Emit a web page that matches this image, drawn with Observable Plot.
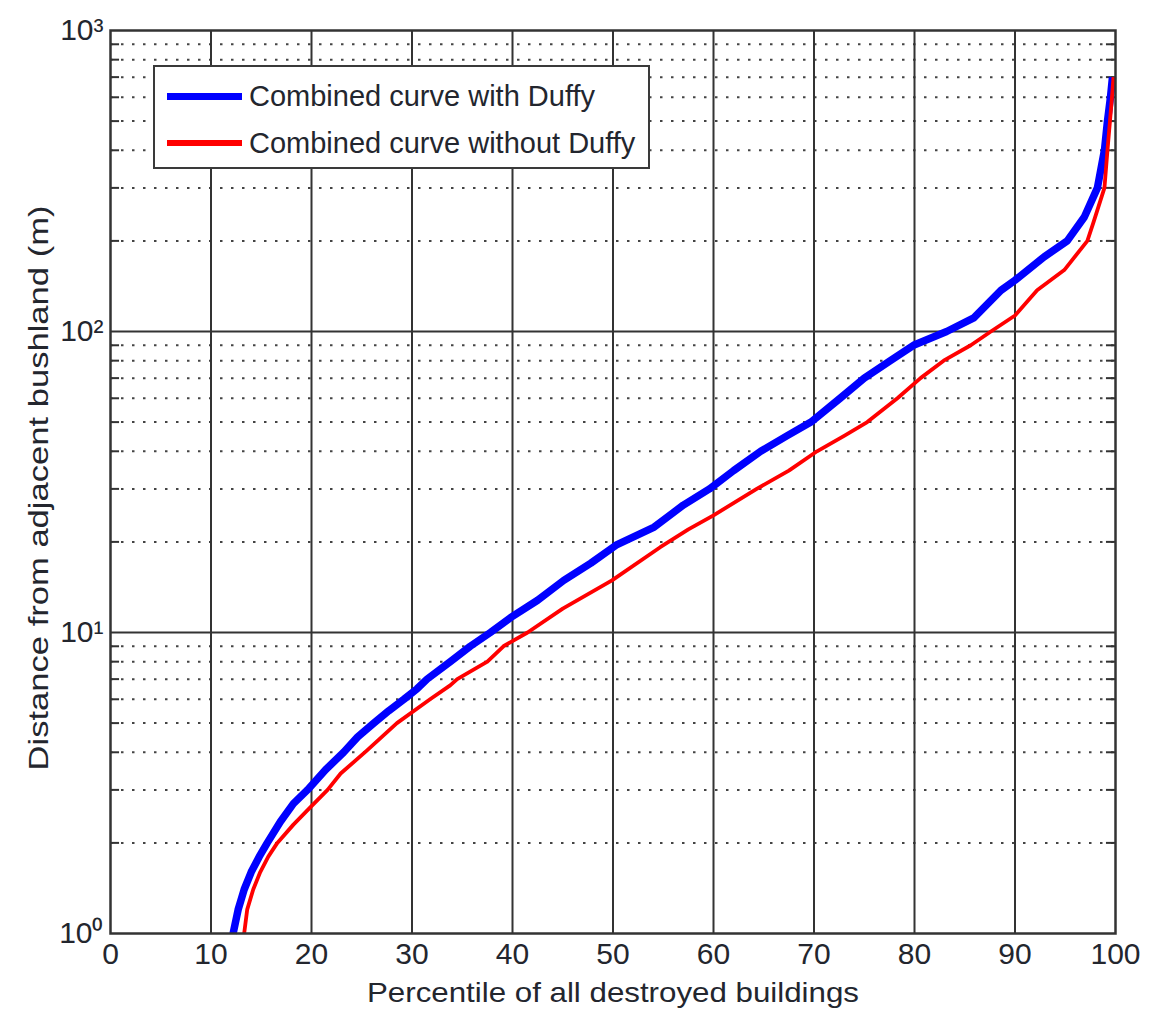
<!DOCTYPE html>
<html>
<head>
<meta charset="utf-8">
<script src="https://cdn.jsdelivr.net/npm/d3@7"></script>
<script src="https://cdn.jsdelivr.net/npm/@observablehq/plot@0.6"></script>
<style>
  html, body { margin: 0; padding: 0; background: #fff; }
  #wrap { position: relative; width: 1153px; height: 1009px; font-family: "Liberation Sans", Arial, sans-serif; }
  #legend { position: absolute; left: 153px; top: 65px; width: 493px; height: 100px; border: 2px solid #3a3a3a; background: #fff; box-sizing: content-box; }
  .sw { position: absolute; left: 12px; width: 75px; }
  .lt { position: absolute; left: 94px; white-space: nowrap; font-size: 29px; color: #23262e; line-height: 1; }
</style>
</head>
<body>
<div id="wrap">
  <div id="chart"></div>
  <div id="legend"></div>
</div>
<script>
const xTicks = [0, 10, 20, 30, 40, 50, 60, 70, 80, 90, 100];
const yTicks = [1, 10, 100, 1000];
const yTickLabels = ["10⁰", "10¹", "10²", "10³"];
const xLabel = "Percentile of all destroyed buildings";
const yLabel = "Distance from adjacent bushland (m)";
const seriesNames = ["Combined curve with Duffy", "Combined curve without Duffy"];
const seriesColors = ["#0000ff", "#ff0000"];

const blueX = [12.2, 12.7, 13.3, 14.0, 14.8, 15.6, 16.9, 18.2, 19.6, 21.4, 23.2, 24.6, 26.2, 27.7, 29.2, 30.5, 31.5, 33.8, 35.8, 37.8, 39.8, 42.5, 45.1, 47.8, 50.3, 54.1, 57.0, 59.6, 62.0, 64.7, 67.3, 69.7, 72.6, 75.0, 77.6, 79.9, 83.2, 85.9, 88.6, 90.0, 92.9, 95.2, 96.9, 98.2, 98.9, 99.2, 99.5, 99.7];
const blueY = [1.0, 1.2, 1.4, 1.6, 1.8, 2.0, 2.35, 2.7, 3.0, 3.5, 4.0, 4.5, 5.0, 5.5, 6.0, 6.5, 7.0, 8.0, 9.0, 10.0, 11.2, 12.8, 14.9, 17.0, 19.5, 22.4, 26.5, 30.0, 34.5, 40.0, 45.0, 50.0, 60.0, 70.0, 80.0, 90.0, 100, 111, 137, 148, 177, 200, 240, 300, 400, 500, 600, 700];

const redX = [13.3, 13.6, 14.2, 14.9, 15.7, 16.6, 18.2, 19.9, 21.6, 22.9, 25.5, 27.0, 28.5, 31.8, 33.8, 34.5, 37.5, 39.1, 41.5, 45.0, 49.9, 54.7, 57.5, 60.0, 64.3, 67.5, 70.3, 73.0, 75.3, 78.3, 80.6, 82.9, 85.6, 87.6, 90.0, 92.2, 94.9, 97.2, 97.8, 98.9, 99.2, 99.45, 99.65, 99.8];
const redY = [1.0, 1.2, 1.4, 1.6, 1.8, 2.0, 2.3, 2.63, 3.0, 3.4, 4.05, 4.5, 5.0, 6.0, 6.67, 7.0, 8.0, 9.0, 10.0, 12.0, 14.9, 19.2, 22.0, 24.5, 30.0, 34.5, 40.0, 45.0, 50.0, 60.0, 70.0, 80.0, 90.0, 100, 113, 137, 160, 200, 230, 300, 400, 500, 600, 700];

const xDomain = [0, 100];
const yDomain = [1, 1000];
const minorY = [];
for (const d of [1, 10, 100]) for (let k = 2; k <= 9; k++) minorY.push(k * d);
const majorInner = [10, 100];
const innerX = xTicks.slice(1, -1);
const tickLen = 0.9;

const blue = blueX.map((x, i) => ({x, y: blueY[i]}));
const red = redX.map((x, i) => ({x, y: redY[i]}));

const textColor = "#23262e";
const chart = Plot.plot({
  width: 1153,
  height: 1009,
  marginLeft: 110,
  marginRight: 38,
  marginTop: 30,
  marginBottom: 76,
  style: {fontFamily: "'Liberation Sans', Arial, sans-serif", fontSize: "30px", color: textColor, background: "#fff"},
  x: {domain: xDomain},
  y: {type: "log", domain: yDomain},
  marks: [
    Plot.ruleY(minorY, {stroke: "#444", strokeWidth: 2, strokeDasharray: "2.5,8.5"}),
    Plot.ruleY(minorY, {x1: xDomain[0], x2: xDomain[0] + tickLen, stroke: "#333", strokeWidth: 2}),
    Plot.ruleY(minorY, {x1: xDomain[1] - tickLen, x2: xDomain[1], stroke: "#333", strokeWidth: 2}),
    Plot.ruleY(majorInner, {stroke: "#333", strokeWidth: 2}),
    Plot.ruleX(innerX, {stroke: "#333", strokeWidth: 2}),
    Plot.line(blue, {x: "x", y: "y", stroke: seriesColors[0], strokeWidth: 7.5, strokeLinejoin: "round", strokeLinecap: "butt"}),
    Plot.line(red, {x: "x", y: "y", stroke: seriesColors[1], strokeWidth: 3.8, strokeLinejoin: "round", strokeLinecap: "butt"}),
    Plot.frame({stroke: "#333", strokeWidth: 2.5}),
    Plot.axisX({ticks: xTicks, tickSize: 0, tickPadding: 9, label: null, fontSize: 30, fill: textColor, tickFormat: d => String(d)}),
    Plot.axisY({ticks: yTicks, tickSize: 0, tickPadding: 7, label: null, fontSize: 30, fill: textColor, tickFormat: d => yTickLabels[yTicks.indexOf(d)]}),
    Plot.text([xLabel], {text: d => d, frameAnchor: "bottom", textAnchor: "middle", dy: 59, lineAnchor: "middle", fill: textColor, fontSize: 28.5}),
    Plot.text([yLabel], {text: d => d, frameAnchor: "left", textAnchor: "middle", dx: -72, dy: 6, rotate: -90, lineAnchor: "middle", fill: textColor, fontSize: 28.5})
  ]
});
document.getElementById("chart").appendChild(chart);

// stretch the axis titles to the reference lengths
d3.select(chart).selectAll("text").each(function () {
  const t = this.textContent;
  if (t === xLabel) d3.select(this).attr("textLength", 492).attr("lengthAdjust", "spacingAndGlyphs");
  if (t === yLabel) d3.select(this).attr("textLength", 565).attr("lengthAdjust", "spacingAndGlyphs");
});

const legend = document.getElementById("legend");
const rowTops = [9, 56];
const swH = [7, 6];
seriesNames.forEach((name, i) => {
  const sw = document.createElement("div");
  sw.className = "sw";
  sw.style.top = (rowTops[i] + 20 - swH[i] / 2) + "px";
  sw.style.height = swH[i] + "px";
  sw.style.background = seriesColors[i];
  legend.appendChild(sw);
  const t = document.createElement("div");
  t.className = "lt";
  t.style.top = (rowTops[i] + 6) + "px";
  t.textContent = name;
  legend.appendChild(t);
});
</script>
</body>
</html>
